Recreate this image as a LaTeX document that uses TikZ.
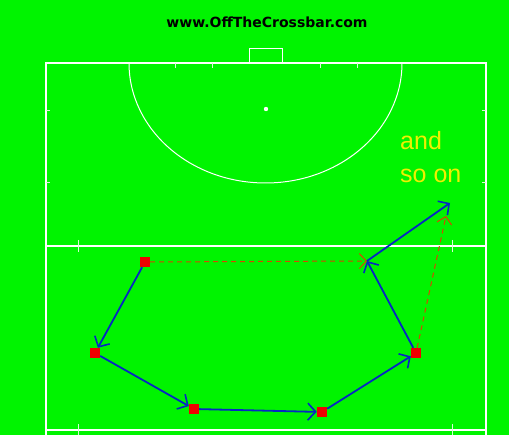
\documentclass[tikz,border=0pt]{standalone}
\usepackage{fontspec}
\setmainfont{Liberation Sans}
\newfontfamily\headfont{DejaVu Sans}
\usetikzlibrary{arrows.meta}
\definecolor{pitch}{RGB}{0,244,0}
\definecolor{runblue}{RGB}{5,40,195}
\definecolor{passred}{RGB}{215,70,0}
\definecolor{player}{RGB}{240,0,0}
\definecolor{txtyellow}{RGB}{240,240,0}
\begin{document}
\begin{tikzpicture}[x=1pt,y=-1pt,
  line/.style={white,line width=2pt},
  thin line/.style={white,line width=1pt},
  tick/.style={white!85!pitch,line width=1pt},
  player/.style={rectangle,fill=player,minimum size=10pt,inner sep=0pt},
  run/.style={runblue,line width=1.8pt,-{Straight Barb[length=8pt,width=17pt,line width=1.6pt]}},
  pass/.style={passred,line width=1pt,dash pattern=on 5pt off 4pt,-{Straight Barb[length=7pt,width=15pt,line width=1pt]}}]
\fill[pitch] (0,0) rectangle (509,435);
\useasboundingbox (0,0) rectangle (509,435);
% header
\node[font=\headfont\bfseries\fontsize{14}{16}\selectfont] (title) at (267,22) {www.OffTheCrossbar.com};
% pitch lines
\draw[line] (46,440) -- (46,63) -- (486,63) -- (486,440);
\draw[line] (46,246) -- (486,246);
\draw[line] (46,430) -- (486,430);
\draw[thin line] (249,63) -- (249,49) -- (282,49) -- (282,63);
\draw[thin line] (129,63) arc[start angle=180,end angle=0,x radius=136.5,y radius=120];
\fill[white] (266,109) circle (2.2);
% ticks
\foreach \x in {175,212,320,357} \draw[tick] (\x,63) -- (\x,68);
\foreach \y in {111,183} {\draw[tick] (46,\y) -- (50,\y); \draw[tick] (486,\y) -- (482,\y);}
\foreach \x in {78,452} {\draw[tick] (\x,240) -- (\x,252); \draw[tick] (\x,424) -- (\x,436);}
% text
\node[txtyellow,font=\fontsize{25}{33}\selectfont,align=left,anchor=north west,inner sep=0pt] (txt) at (400,131) {and\\so on};
% players
\node[player] (p1) at (145,262) {};
\node[player] (p2) at (95,353) {};
\node[player] (p3) at (194,409) {};
\node[player] (p4) at (322,412) {};
\node[player] (p5) at (416,353) {};
\coordinate (q) at (367,261);
\coordinate (r) at (450,203);
% passes
\draw[pass] (p1) -- (q);
\draw[pass] (p5) -- (446,216);
% runs
\draw[run] (p1) -- (p2);
\draw[run] (p2) -- (p3);
\draw[run] (p3) -- (p4);
\draw[run] (p4) -- (p5);
\draw[run] (p5) -- (q);
\draw[run] (q) -- (r);
\end{tikzpicture}
\end{document}
